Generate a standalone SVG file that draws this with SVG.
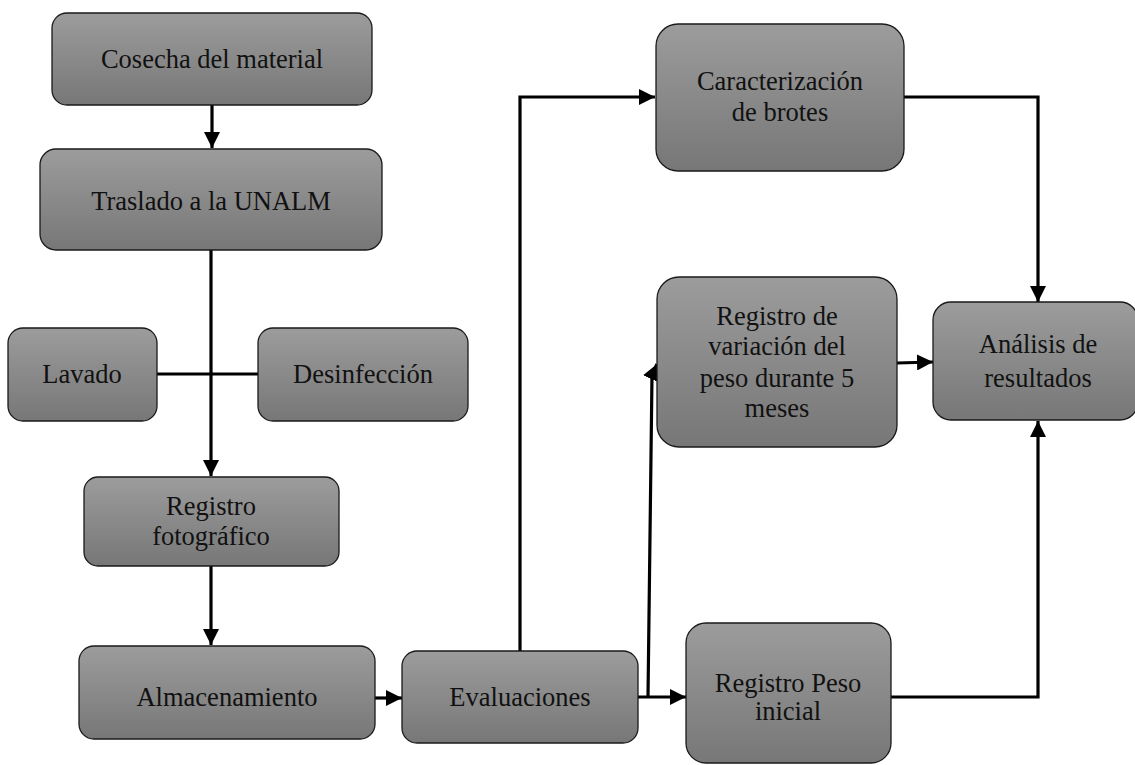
<svg xmlns="http://www.w3.org/2000/svg" width="1135" height="765" viewBox="0 0 1135 765">
<defs>
<linearGradient id="g" x1="0" y1="0" x2="0" y2="1">
<stop offset="0" stop-color="#9c9c9c"/>
<stop offset="1" stop-color="#777777"/>
</linearGradient>
<marker id="ah" viewBox="0 0 10 10" refX="10" refY="5" markerWidth="5" markerHeight="5" orient="auto" markerUnits="strokeWidth">
<path d="M0,0 L10,5 L0,10 Z" fill="#000"/>
</marker>
<style>
.box{fill:url(#g);stroke:#1a1a1a;stroke-width:1.3}
.t{font-family:"Liberation Serif","Times New Roman",serif;font-size:26.5px;fill:#111;text-anchor:middle}
.c{fill:none;stroke:#000;stroke-width:3.2}
.a{marker-end:url(#ah)}
</style>
</defs>
<rect width="1135" height="765" fill="#fff"/>
<g id="connectors">
<path class="c a" d="M212,105 L212,148"/>
<path class="c a" d="M211,250 L211,476"/>
<path class="c" d="M157,374 L258,374"/>
<path class="c a" d="M211,566 L211,645"/>
<path class="c a" d="M375,698 L402,698"/>
<path class="c a" d="M638,697 L686,697"/>
<path class="c a" d="M520,651 L520,97 L655,97"/>
<path class="c a" d="M648,697 L652,375 L657,364"/>
<path class="c a" d="M904,97 L1038,97 L1038,302"/>
<path class="c a" d="M897,363 L933,362"/>
<path class="c a" d="M891,697 L1038,697 L1038,421"/>
</g>
<g id="cosecha"><rect class="box" x="52" y="13" width="320" height="92" rx="15"/><text class="t" x="212" y="68">Cosecha del material</text></g>
<g id="traslado"><rect class="box" x="40" y="149" width="342" height="101" rx="16"/><text class="t" x="211" y="210">Traslado a la UNALM</text></g>
<g id="lavado"><rect class="box" x="8" y="328" width="149" height="93" rx="15"/><text class="t" x="82" y="383">Lavado</text></g>
<g id="desinfeccion"><rect class="box" x="258" y="328" width="210" height="93" rx="15"/><text class="t" x="363" y="383">Desinfección</text></g>
<g id="registro-foto"><rect class="box" x="84" y="477" width="255" height="89" rx="14"/><text class="t" x="211" y="515">Registro</text><text class="t" x="211" y="545">fotográfico</text></g>
<g id="almacenamiento"><rect class="box" x="79" y="646" width="296" height="93" rx="15"/><text class="t" x="227" y="706">Almacenamiento</text></g>
<g id="evaluaciones"><rect class="box" x="402" y="651" width="236" height="92" rx="15"/><text class="t" x="520" y="706">Evaluaciones</text></g>
<g id="peso-inicial"><rect class="box" x="686" y="623" width="205" height="140" rx="20"/><text class="t" x="788" y="692">Registro Peso</text><text class="t" x="788" y="720">inicial</text></g>
<g id="caracterizacion"><rect class="box" x="656" y="24" width="248" height="147" rx="22"/><text class="t" x="780" y="90">Caracterización</text><text class="t" x="780" y="121">de brotes</text></g>
<g id="variacion"><rect class="box" x="657" y="277" width="240" height="170" rx="22"/><text class="t" x="777" y="325">Registro de</text><text class="t" x="777" y="355">variación del</text><text class="t" x="777" y="387">peso durante 5</text><text class="t" x="777" y="417">meses</text></g>
<g id="analisis"><rect class="box" x="933" y="302" width="205" height="118" rx="18"/><text class="t" x="1038" y="353">Análisis de</text><text class="t" x="1038" y="387">resultados</text></g>
</svg>
